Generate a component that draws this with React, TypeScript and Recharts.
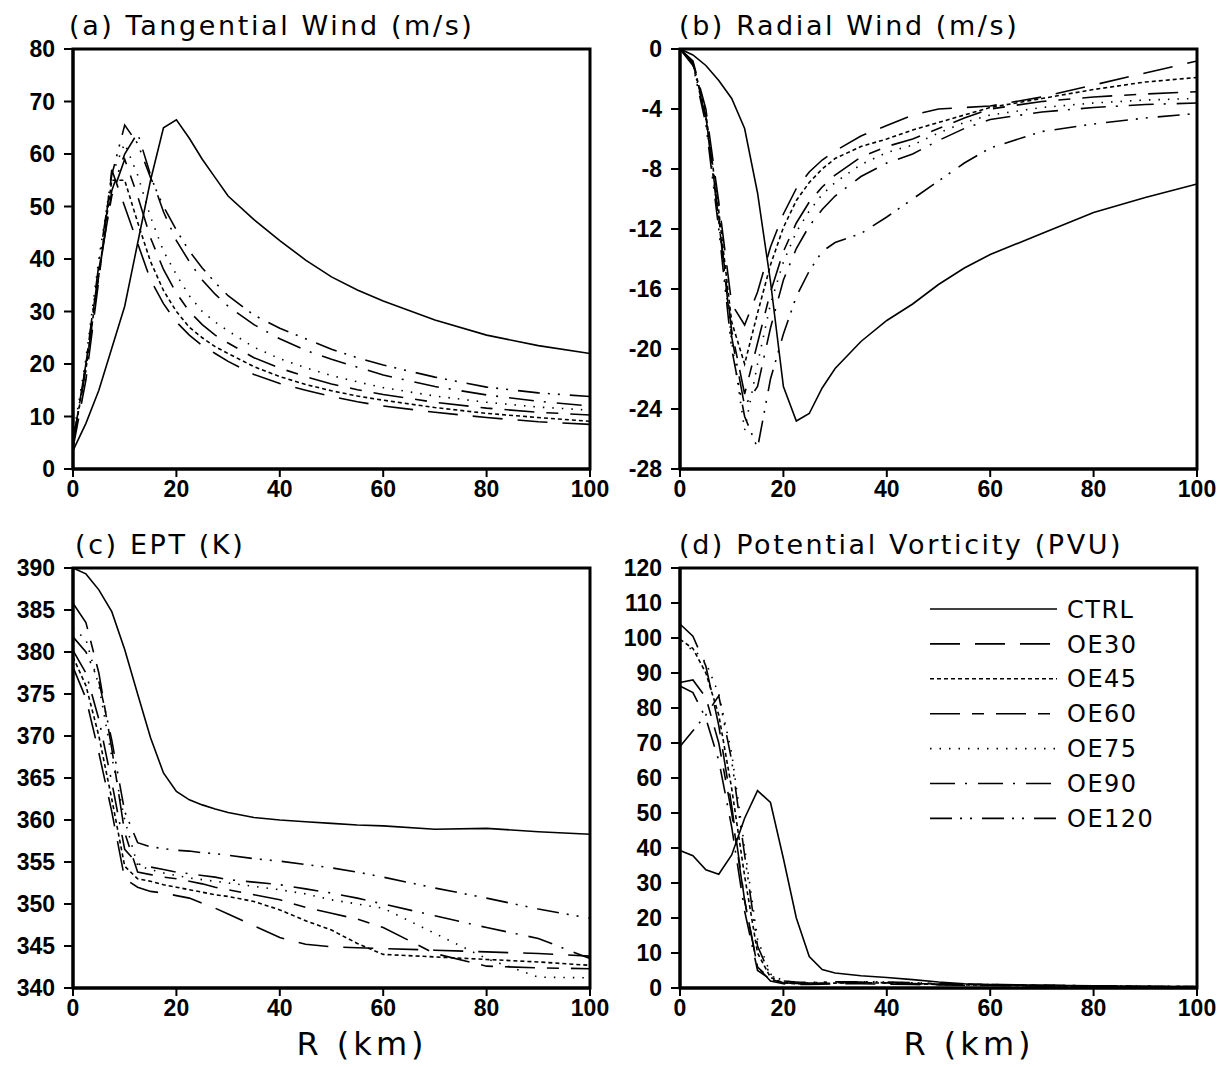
import { LineChart, Line, XAxis, YAxis, ReferenceArea } from 'recharts';

// radius (km) of the sampled points, shared by every series
const radius = [0, 2.5, 5, 7.5, 10, 12.5, 15, 17.5, 20, 22.5, 25, 27.5, 30, 35, 40, 45, 50, 55, 60, 70, 80, 90, 100];

const seriesNames = ['CTRL', 'OE30', 'OE45', 'OE60', 'OE75', 'OE90', 'OE120'];

// (a) tangential wind, m/s
const tanCTRL = [3.5, 8.7, 15, 23, 31, 43, 55, 65, 66.5, 63, 59, 55.5, 52, 47.5, 43.5, 39.8, 36.6, 34.1, 32.0, 28.4, 25.5, 23.5, 22.0];
const tanOE30 = [4, 17, 36, 57, 50, 43, 36, 31.5, 28, 25.5, 23.5, 22, 20.5, 18, 16.3, 15, 13.8, 12.8, 12, 10.8, 9.8, 9, 8.5];
const tanOE45 = [5, 19, 37, 55, 55, 47, 39.5, 34, 30, 27, 25, 23.3, 22, 19.5, 17.6, 16.1, 14.9, 13.9, 13.1, 11.7, 10.6, 9.8, 9.1];
const tanOE60 = [5, 20, 38, 52, 59, 52, 44, 38, 33.5, 30, 27.5, 25.5, 24, 21.2, 19.2, 17.6, 16.2, 15.1, 14.2, 12.7, 11.6, 10.8, 10.3];
const tanOE75 = [6, 21, 40, 56, 62, 56, 48, 41.5, 37, 33, 30, 28, 26.3, 23.2, 21, 19.3, 17.8, 16.6, 15.5, 13.9, 12.7, 11.8, 11.2];
const tanOE90 = [5, 19, 37, 53, 60, 64, 56, 49, 43.5, 39.5, 36, 33.3, 31, 27.5, 24.8, 22.6, 20.9, 19.4, 17.9, 15.7, 14.1, 12.9, 12.0];
const tanOE120 = [5, 20, 39, 56, 65.5, 62, 55.5, 50, 45.5, 41.5, 38.3, 35.5, 33, 29.3, 26.8, 24.8, 22.8, 21.2, 19.8, 17.5, 15.6, 14.5, 13.8];

// (b) radial wind, m/s
const radCTRL = [0, -0.4, -1.1, -2.1, -3.3, -5.3, -9.6, -15.5, -22.5, -24.8, -24.3, -22.6, -21.3, -19.5, -18.1, -17.0, -15.7, -14.6, -13.7, -12.3, -10.9, -9.9, -9.0];
const radOE30 = [0, -0.8, -4.0, -10.2, -17.0, -18.4, -16.2, -13.2, -11.0, -9.3, -8.2, -7.4, -6.8, -5.8, -5.1, -4.4, -4.0, -3.9, -3.8, -3.2, -2.4, -1.6, -0.8];
const radOE45 = [0, -0.9, -4.3, -10.8, -18.2, -21.0, -17.6, -14.4, -11.9, -10.1, -8.9, -8.0, -7.3, -6.5, -6.0, -5.4, -4.9, -4.4, -3.9, -3.3, -2.7, -2.2, -1.9];
const radOE60 = [0, -0.9, -4.5, -11.2, -18.8, -23.0, -19.6, -16.2, -13.5, -11.6, -10.2, -9.2, -8.4, -7.2, -6.5, -6.0, -5.3, -4.6, -4.0, -3.5, -3.2, -3.0, -2.85];
const radOE75 = [0, -1.0, -4.7, -11.5, -19.5, -25.4, -21.0, -17.0, -14.2, -12.2, -10.8, -9.7, -8.9, -7.7, -6.9, -6.4, -5.6, -4.9, -4.4, -3.9, -3.6, -3.4, -3.3];
const radOE90 = [0, -1.0, -4.6, -11.4, -19.2, -23.8, -22.5, -18.6, -15.4, -13.3, -11.8, -10.7, -9.8, -8.5, -7.6, -7.0, -6.1, -5.3, -4.7, -4.2, -3.9, -3.7, -3.6];
const radOE120 = [0, -1.1, -5.0, -12.0, -20.0, -24.5, -26.6, -22.0, -19.0, -16.5, -14.8, -13.5, -12.9, -12.3, -11.2, -10.0, -8.8, -7.6, -6.6, -5.5, -5.0, -4.6, -4.3];

// (c) equivalent potential temperature, K
const eptCTRL = [390, 389.3, 387.4, 384.8, 380.3, 375, 369.8, 365.6, 363.4, 362.4, 361.8, 361.3, 360.9, 360.3, 360.0, 359.8, 359.6, 359.4, 359.3, 358.9, 359.0, 358.6, 358.3];
const eptOE30 = [378.2, 374.5, 368, 361, 353, 352, 351.5, 351.3, 351.0, 350.7, 350.1, 349.5, 348.8, 347.4, 346.0, 345.2, 344.9, 344.8, 344.7, 344.5, 344.3, 344.1, 343.8];
const eptOE45 = [379.4, 376, 370, 362.5, 354.5, 353.0, 352.7, 352.3, 352.0, 351.7, 351.4, 351.1, 350.9, 350.3, 349.3, 348.0, 346.9, 345.3, 344.0, 343.7, 343.4, 343.1, 342.7];
const eptOE60 = [385.8, 383.5, 377.5, 368.5, 358.5, 353.8, 353.5, 353.2, 353.0, 352.7, 352.4, 352.0, 351.7, 351.1, 350.5, 349.6, 348.9, 348.2, 347.2, 344.1, 342.6, 342.4, 342.3];
const eptOE75 = [382.8, 381.5, 376, 367.5, 360, 354.6, 354.1, 353.7, 353.4, 353.1, 352.9, 352.7, 352.5, 352.1, 351.7, 351.2, 350.5, 350.0, 349.5, 346.5, 343.5, 341.3, 341.2];
const eptOE90 = [380.2, 377.5, 372, 364.5, 356.5, 354.8, 354.4, 354.1, 353.8, 353.6, 353.4, 353.2, 352.9, 352.6, 352.3, 351.8, 351.3, 350.7, 350.0, 348.6, 347.2, 345.9, 343.5];
const eptOE120 = [381.8, 380, 376.5, 369.5, 361, 357.3, 356.8, 356.6, 356.4, 356.3, 356.1, 356.0, 355.8, 355.4, 355.1, 354.7, 354.3, 353.8, 353.2, 351.9, 350.7, 349.4, 348.3];

// (d) potential vorticity, PVU
const pvCTRL = [39.3, 37.8, 33.8, 32.5, 38, 48.5, 56.4, 53, 37, 20, 9, 5.3, 4.3, 3.5, 3.0, 2.4, 1.7, 1.2, 1.0, 0.8, 0.6, 0.4, 0.3];
const pvOE30 = [104, 100.5, 92, 75, 52, 25, 6, 2, 1.2, 1.0, 1.0, 1.1, 1.2, 1.2, 1.1, 1.0, 0.9, 0.8, 0.7, 0.5, 0.4, 0.3, 0.3];
const pvOE45 = [99.6, 97, 90, 78, 57, 32, 10, 3, 1.5, 1.2, 1.2, 1.3, 1.4, 1.5, 1.4, 1.2, 1.0, 0.9, 0.8, 0.6, 0.5, 0.4, 0.4];
const pvOE60 = [87.3, 88, 83, 70, 50, 25, 6, 2.5, 1.5, 1.3, 1.3, 1.4, 1.5, 1.6, 1.5, 1.3, 1.1, 1.0, 0.9, 0.7, 0.5, 0.4, 0.4];
const pvOE75 = [97, 97, 93, 84, 67, 40, 14, 4, 2, 1.6, 1.5, 1.6, 1.7, 1.8, 1.7, 1.5, 1.3, 1.1, 1.0, 0.8, 0.6, 0.5, 0.4];
const pvOE90 = [86.3, 84.4, 77, 65, 46, 22, 5, 2.5, 1.6, 1.4, 1.4, 1.5, 1.6, 1.6, 1.5, 1.3, 1.1, 1.0, 0.9, 0.7, 0.6, 0.5, 0.4];
const pvOE120 = [69, 73.5, 78, 83.5, 65, 38, 12, 3.5, 2, 1.7, 1.6, 1.7, 1.8, 1.8, 1.7, 1.5, 1.3, 1.1, 1.0, 0.8, 0.6, 0.5, 0.4];

const xTicks = [0, 20, 40, 60, 80, 100];
const tanTicks = [0, 10, 20, 30, 40, 50, 60, 70, 80];
const radTicks = [-28, -24, -20, -16, -12, -8, -4, 0];
const eptTicks = [340, 345, 350, 355, 360, 365, 370, 375, 380, 385, 390];
const pvTicks = [0, 10, 20, 30, 40, 50, 60, 70, 80, 90, 100, 110, 120];

const dashes: Record<string, string | undefined> = {
  CTRL: undefined,
  OE30: '30 15',
  OE45: '4 3',
  OE60: '30 12 12 12',
  OE75: '1.5 8',
  OE90: '25 10 2 11',
  OE120: '22 8 2 8 2 10',
};

const PLOT_W = 517;
const PLOT_H = 420;
const Y_W = 70;
const TOP_PAD = 16;
const RIGHT_PAD = 26;
const X_H = 40;
const LINE_W = 1.6;

const tickFont = { fill: '#000', fontSize: 23, fontWeight: 'bold', fontFamily: '"Liberation Sans", Arial, sans-serif' };
const thinFont = '"DejaVu Sans", sans-serif';

function buildRows(cols: number[][]) {
  return radius.map((r, i) => {
    const row: Record<string, number> = { r };
    seriesNames.forEach((name, k) => {
      row[name] = cols[k][i];
    });
    return row;
  });
}

type PanelProps = {
  left: number;
  top: number;
  title: string;
  titleLeft: number;
  rows: Record<string, number>[];
  yTicks: number[];
};

function Panel({ left, top, title, titleLeft, rows, yTicks }: PanelProps) {
  const yMin = yTicks[0];
  const yMax = yTicks[yTicks.length - 1];
  return (
    <>
      <div
        style={{
          position: 'absolute',
          left: titleLeft,
          top: top - 37,
          fontFamily: thinFont,
          fontSize: 27,
          lineHeight: '27px',
          letterSpacing: 2.6,
          whiteSpace: 'nowrap',
          color: '#000',
        }}
      >
        {title}
      </div>
      <div style={{ position: 'absolute', left: left - Y_W, top: top - TOP_PAD }}>
        <LineChart
          width={Y_W + PLOT_W + RIGHT_PAD}
          height={TOP_PAD + PLOT_H + X_H}
          data={rows}
          margin={{ top: TOP_PAD, right: RIGHT_PAD, bottom: 0, left: 0 }}
        >
          <XAxis
            dataKey="r"
            type="number"
            domain={[0, 100]}
            ticks={xTicks}
            interval={0}
            height={X_H}
            tick={tickFont}
            tickSize={8}
            tickMargin={4}
            tickLine={{ stroke: '#000', strokeWidth: 2 }}
            axisLine={{ stroke: '#000', strokeWidth: 3 }}
          />
          <YAxis
            type="number"
            domain={[yMin, yMax]}
            ticks={yTicks}
            interval={0}
            width={Y_W}
            tick={tickFont}
            tickSize={9}
            tickMargin={9}
            tickLine={{ stroke: '#000', strokeWidth: 2 }}
            axisLine={{ stroke: '#000', strokeWidth: 3 }}
          />
          {seriesNames.map((name) => (
            <Line
              key={name}
              type="linear"
              dataKey={name}
              stroke="#000"
              strokeWidth={LINE_W}
              strokeDasharray={dashes[name]}
              dot={false}
              activeDot={false}
              isAnimationActive={false}
            />
          ))}
          <ReferenceArea
            x1={0}
            x2={100}
            y1={yMin}
            y2={yMax}
            fill="none"
            fillOpacity={0}
            stroke="#000"
            strokeWidth={3}
          />
        </LineChart>
      </div>
    </>
  );
}

function LegendBox({ left, top }: { left: number; top: number }) {
  return (
    <svg style={{ position: 'absolute', left, top }} width={290} height={250}>
      {seriesNames.map((name, i) => {
        const y = 19 + i * 34.9;
        return (
          <g key={name}>
            <line x1={10} x2={137} y1={y} y2={y} stroke="#000" strokeWidth={LINE_W} strokeDasharray={dashes[name]} />
            <text x={147} y={y} dy="0.36em" fontFamily={thinFont} fontSize={24} letterSpacing={1.5} fill="#000">
              {name}
            </text>
          </g>
        );
      })}
    </svg>
  );
}

function AxisTitle({ center }: { center: number }) {
  return (
    <div
      style={{
        position: 'absolute',
        left: center - 100,
        width: 200,
        top: 1028,
        textAlign: 'center',
        fontFamily: thinFont,
        fontSize: 32,
        lineHeight: '32px',
        letterSpacing: 4,
        color: '#000',
      }}
    >
      R (km)
    </div>
  );
}

export default function App() {
  const tanRows = buildRows([tanCTRL, tanOE30, tanOE45, tanOE60, tanOE75, tanOE90, tanOE120]);
  const radRows = buildRows([radCTRL, radOE30, radOE45, radOE60, radOE75, radOE90, radOE120]);
  const eptRows = buildRows([eptCTRL, eptOE30, eptOE45, eptOE60, eptOE75, eptOE90, eptOE120]);
  const pvRows = buildRows([pvCTRL, pvOE30, pvOE45, pvOE60, pvOE75, pvOE90, pvOE120]);

  return (
    <div style={{ position: 'absolute', left: 0, top: 0, width: 1229, height: 1067, background: '#fff' }}>
      <Panel left={73} top={49} title="(a) Tangential Wind (m/s)" titleLeft={69} rows={tanRows} yTicks={tanTicks} />
      <Panel left={680} top={49} title="(b) Radial Wind (m/s)" titleLeft={679} rows={radRows} yTicks={radTicks} />
      <Panel left={73} top={568} title="(c) EPT (K)" titleLeft={75} rows={eptRows} yTicks={eptTicks} />
      <Panel left={680} top={568} title="(d) Potential Vorticity (PVU)" titleLeft={679} rows={pvRows} yTicks={pvTicks} />
      <LegendBox left={920} top={590} />
      <AxisTitle center={362} />
      <AxisTitle center={969} />
    </div>
  );
}
